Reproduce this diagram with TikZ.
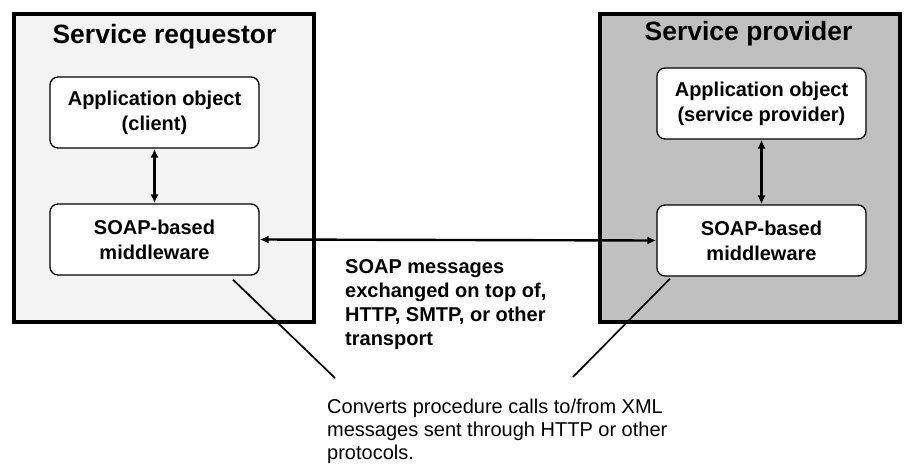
\documentclass[tikz,border=0pt]{standalone}
\usepackage{fontspec}
\setmainfont{Liberation Sans}
\usepackage{xcolor}
\usetikzlibrary{arrows.meta}
\definecolor{reqgray}{RGB}{243,243,243}
\definecolor{provgray}{RGB}{192,192,192}

\begin{document}
\begin{tikzpicture}[x=1pt,y=-1pt,
  side/.style={draw,line width=4pt,minimum width=300pt,minimum height=308pt},
  comp/.style={draw,line width=1.3pt,fill=white,rounded corners=8pt,
    minimum width=209pt,minimum height=71pt,align=center,
    font=\fontsize{20}{25}\selectfont\bfseries},
  title/.style={font=\fontsize{26.5}{30}\selectfont\bfseries},
  link/.style={line width=2.4pt,{Latex[length=9pt,width=8pt]}-{Latex[length=9pt,width=8pt]}}]
\useasboundingbox (0,0) rectangle (905,464);
\node (req) at (164,167.5) [side,fill=reqgray] {};
\node (prov) at (750,167.5) [side,fill=provgray] {};
\node (reqt) at (164.5,37) [title] {Service requestor};
\node (provt) at (748.5,34) [title] {Service provider};
\node (lapp) at (154.5,112.5) [comp] {Application object\\(client)};
\node (lmw) at (154.5,239.5) [comp] {SOAP-based\\middleware};
\node (rapp) at (761.5,103.5) [comp] {Application object\\(service provider)};
\node (rmw) at (761.5,240.5) [comp] {SOAP-based\\middleware};
\node (msg) at (345,259) [anchor=north west,inner sep=0pt,align=left,
  font=\fontsize{20}{24}\selectfont\bfseries]
  {SOAP messages\\exchanged on top of,\\HTTP, SMTP, or other\\transport};
\node (note) at (327,399) [anchor=north west,inner sep=0pt,align=left,
  font=\fontsize{20}{23}\selectfont]
  {Converts procedure calls to/from XML\\messages sent through HTTP or other\\protocols.};
\coordinate (lend) at (335,378);
\coordinate (rend) at (573,377);
\draw [link] (lapp) -- (lmw);
\draw [link] (rapp) -- (rmw);
\draw [link] (lmw.east) -- (rmw.west);
\draw [line width=1.7pt] ([xshift=78.5pt,yshift=-4pt]lmw.south) -- (lend);
\draw [line width=1.7pt] ([xshift=-91.5pt,yshift=-2pt]rmw.south) -- (rend);
\end{tikzpicture}
\end{document}
